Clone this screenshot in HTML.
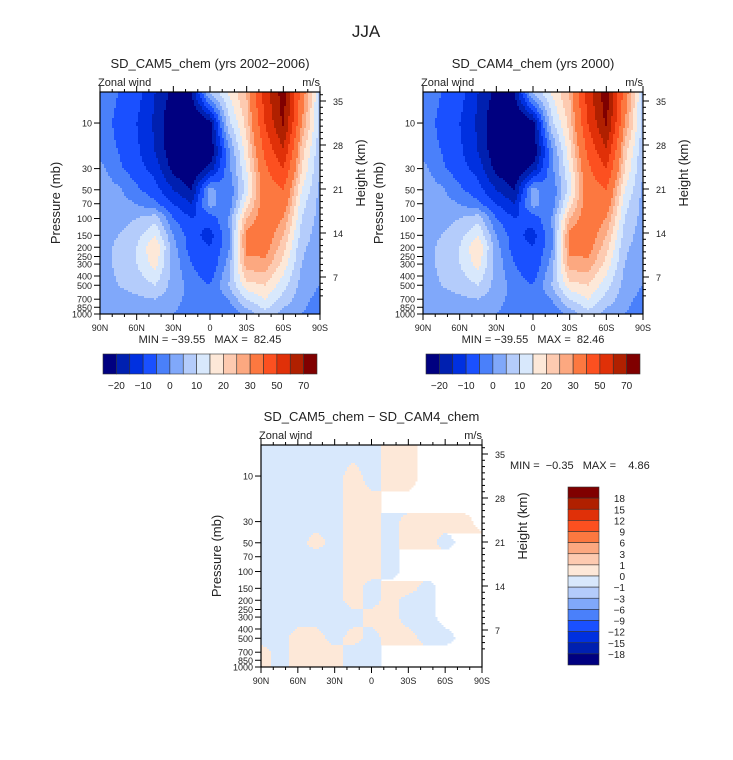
<!DOCTYPE html>
<html><head><meta charset="utf-8"><style>
body{margin:0;background:#fff;}
svg{display:block;font-family:"Liberation Sans",sans-serif;}
text{white-space:pre;}
</style></head><body>
<svg id="s" width="733" height="760" viewBox="0 0 733 760">
<rect width="733" height="760" fill="#fff"/>
<text x="366" y="37" font-size="17" text-anchor="middle" fill="#222">JJA</text>
</svg>
<script>
const lats = ["90N","75N","60N","45N","30N","15N","0","15S","30S","45S","60S","75S","90S"];
const pLevels = [5,10,20,30,50,70,100,150,200,300,500,700,1000];
const windCAM5 = [
[-3,-5,-8,-15,-22,-20,5,15,25,55,75,35,8],
[-3,-6,-10,-16,-25,-28,-22,8,22,50,72,30,8],
[-3,-5,-9,-15,-24,-28,-25,-2,18,42,58,22,6],
[2,-4,-8,-12,-22,-26,-18,-2,15,38,50,20,5],
[3,1,-4,-8,-15,-20,2,-5,12,35,40,15,4],
[3,2,0,-4,-10,-15,3,-5,18,35,35,12,3],
[3,3,5,8,-5,-10,-8,0,25,35,30,10,3],
[3,5,8,15,0,-8,-12,-2,32,35,25,8,2],
[3,6,10,20,2,-8,-10,-2,32,33,22,6,2],
[3,6,10,17,3,-5,-10,2,28,28,18,5,2],
[3,5,7,10,3,-2,-5,5,18,20,12,3,0],
[2,3,4,5,2,-2,-5,0,10,15,8,2,-2],
[0,0,2,3,0,-3,-5,-5,2,8,3,0,-3]];
const windCAM4 = [
[-3,-5,-8,-15,-22,-20,5,15,25,55,76,35,8],
[-3,-6,-10,-16,-25,-28,-22,8,22,50,72,30,8],
[-3,-5,-9,-15,-24,-28,-25,-2,18,42,58,22,6],
[2,-4,-8,-12,-22,-26,-18,-2,15,38,50,20,5],
[3,1,-4,-8,-15,-20,2,-5,12,35,40,15,4],
[3,2,0,-4,-10,-15,3,-5,18,35,35,12,3],
[3,3,5,8,-5,-10,-8,0,25,35,30,10,3],
[3,5,8,15,0,-8,-12,-2,32,35,25,8,2],
[3,6,10,20,2,-8,-10,-2,32,33,22,6,2],
[3,6,10,17,3,-5,-10,2,28,28,18,5,2],
[3,5,7,10,3,-2,-5,5,18,20,12,3,0],
[2,3,4,5,2,-2,-5,0,10,15,8,2,-2],
[0,0,2,3,0,-3,-5,-5,2,8,3,0,-3]];
const windDiff = [
[-.5,-.5,-.5,-.5,-.5,-.5,-.5,.5,.5,-.5,-.5,-.5,-.5],
[-.5,-.5,-.5,-.5,-.5,.5,-.5,.5,.5,-.5,-.5,-.5,-.5],
[-.5,-.5,-.5,-.5,-.5,.5,.5,-.5,-.5,-.5,-.5,-.5,-.5],
[-.5,-.5,-.5,-.5,-.5,.5,.5,-.5,.5,.5,.5,.5,-.5],
[-.5,-.5,-.5,.5,-.5,.5,.5,-.5,.5,.5,-.5,.5,.5],
[-.5,-.5,-.5,-.5,-.5,.5,.5,-.5,.5,.5,.5,.5,.5],
[-.5,-.5,-.5,-.5,-.5,.5,.5,-.5,.5,.5,.5,.5,.5],
[-.5,-.5,-.5,-.5,-.5,.5,-.5,.5,.5,-.5,.5,.5,.5],
[-.5,-.5,-.5,-.5,-.5,.5,-.5,.5,-.5,-.5,.5,.5,.5],
[-.5,-.5,-.5,-.5,-.5,-.5,.5,.5,-.5,-.5,.5,.5,.5],
[-.5,-.5,.5,.5,-.5,.5,-.5,.5,.5,-.5,-.5,.5,.5],
[.5,-.5,.5,.5,.5,-.5,-.5,.5,.5,.5,.5,.5,.5],
[.5,-.5,.5,.5,.5,-.5,-.5,.5,.5,.5,.5,.5,.5]];
const windLevels = [-20,-15,-10,-5,0,5,10,15,20,25,30,40,50,60,70];
const windLabels = ["-20","-10","0","10","20","30","50","70"];
const diffLevels = [-18,-15,-12,-9,-6,-3,-1,0,1,3,6,9,12,15,18];
const colors = ["#000080","#0020b0","#0030e0","#1a50ff","#4a80fa","#80a8fa","#b4ccfb","#d8e8fc","#fde8d8","#fdcab0","#fca880","#fc7840","#fc5020","#e03008","#b02000","#800000"];
const pTicks = [10,30,50,70,100,150,200,250,300,400,500,700,850,1000];
const hTicks = [7,14,21,28,35];
const latTicks = ["90N","60N","30N","0","30S","60S","90S"];

const NS="http://www.w3.org/2000/svg";
const svg=document.getElementById('s');
function el(t,a,p){const e=document.createElementNS(NS,t);for(const k in a)e.setAttribute(k,a[k]);(p||svg).appendChild(e);return e;}
function txt(x,y,s,sz,anch,p){const e=el('text',{x:x,y:y,'font-size':sz,'text-anchor':anch||'middle',fill:'#222'},p);e.textContent=s;return e;}
function colorFor(v,lv){let i=0;while(i<lv.length&&v>=lv[i])i++;return colors[i];}
const logTop=0.675;
function yOfP(p,y0,h){return y0+(Math.log10(p)-logTop)/(3-logTop)*h;}
function sample(grid,u,lp){
  const lg=pLevels.map(Math.log10);
  let k=0; if(lp<=lg[0]){k=0;lp=lg[0];} else {while(k<lg.length-2&&lp>lg[k+1])k++;}
  let t=(lp-lg[k])/(lg[k+1]-lg[k]);t=Math.max(0,Math.min(1,t));
  let j=Math.min(11,Math.floor(u));let s=u-j;
  const a=grid[k][j]*(1-s)+grid[k][j+1]*s, b=grid[k+1][j]*(1-s)+grid[k+1][j+1]*s;
  return a*(1-t)+b*t;
}
function panel(name,grid,lv,x0,y0,w,h,title,minmax,mmx,mmy,mmAnchor){
  const g=el('g',{});
  
  
  const cs=2;
  for(let y=0;y<h;y+=cs){
    const lp=logTop+(y+cs/2)/h*(3-logTop);
    let runStart=0,runCol=null;
    for(let x=0;x<=w;x+=cs){
      let c=null;
      if(x<w){c=colorFor(sample(grid,(x+cs/2)/w*12,lp),lv);}
      if(c!==runCol){
        if(runCol!==null){const r=el('rect',{x:x0+runStart,y:y0+y,width:x-runStart+0.5,height:cs+0.5,fill:runCol},g);
          
          }
        runStart=x;runCol=c;
      }
    }
  }
  el('rect',{x:x0,y:y0,width:w,height:h,fill:'none',stroke:'#000','stroke-width':1.2},g);
  txt(x0+w/2,y0-24,title,13,'middle',g);
  txt(x0-2,y0-6,'Zonal wind',11,'start',g);
  txt(x0+w,y0-6,'m/s',11,'end',g);
  for(let d=0;d<=18;d++){
    const x=x0+d/18*w, maj=d%3==0;
    el('line',{x1:x,y1:y0+h,x2:x,y2:y0+h+(maj?6:3),stroke:'#000'},g);
    el('line',{x1:x,y1:y0,x2:x,y2:y0-(maj?6:3),stroke:'#000'},g);
    if(maj) txt(x,y0+h+17,latTicks[d/3],9,'middle',g);
  }
  pTicks.forEach(p=>{const y=yOfP(p,y0,h);
    el('line',{x1:x0-6,y1:y,x2:x0,y2:y,stroke:'#000'},g);
    txt(x0-8,y+3.5,String(p),9,'end',g);});
  hTicks.forEach(k=>{const y=y0+h-37-(k-7)/7*44;
    el('line',{x1:x0+w,y1:y,x2:x0+w+6,y2:y,stroke:'#000'},g);
    txt(x0+w+13,y+4,String(k),9,'start',g);});
  for(let k=4;k<=36;k++){const y=y0+h-37-(k-7)/7*44; if(y>y0&&y<y0+h) el('line',{x1:x0+w,y1:y,x2:x0+w+3,y2:y,stroke:'#000'},g);}
  const pt=txt(0,0,'Pressure (mb)',13,'middle',g);pt.setAttribute('transform',`translate(${x0-40},${y0+h/2}) rotate(-90)`);
  
  const ht=txt(0,0,'Height (km)',13,'middle',g);ht.setAttribute('transform',`translate(${x0+w+45},${y0+h/2-30}) rotate(-90)`);
  txt(mmx,mmy,minmax,11,mmAnchor,g);
}
function hbar(name,x0,y0,w,h){
  const g=el('g',{});
  
  
  const bw=w/16;
  colors.forEach((c,i)=>{el('rect',{x:x0+i*bw,y:y0,width:bw,height:h,fill:c,stroke:'#333','stroke-width':0.6},g);});
  windLabels.forEach((l,i)=>{const b=i*2; txt(x0+(b+1)*bw,y0+h+15,l.replace('-','−'),10,'middle',g);});
}
function vbar(name,x0,y0,w,h){
  const g=el('g',{});
  
  
  const bh=h/16;
  colors.slice().reverse().forEach((c,i)=>{el('rect',{x:x0,y:y0+i*bh,width:w,height:bh,fill:c,stroke:'#333','stroke-width':0.6},g);});
  diffLevels.slice().reverse().forEach((l,i)=>{txt(x0+w+26,y0+(i+1)*bh+4,String(l).replace('-','−'),10,'end',g);});
}
panel('panel-cam5',windCAM5,windLevels,100,92,220,222,'SD_CAM5_chem (yrs 2002−2006)','MIN = −39.55   MAX =  82.45',210,343,'middle');
panel('panel-cam4',windCAM4,windLevels,423,92,220,222,'SD_CAM4_chem (yrs 2000)','MIN = −39.55   MAX =  82.46',533,343,'middle');
panel('panel-diff',windDiff,diffLevels,261,445,221,222,'SD_CAM5_chem − SD_CAM4_chem','MIN =  −0.35   MAX =    4.86',510,469,'start');
hbar('colorbar-cam5',103,354,214,20);
hbar('colorbar-cam4',426,354,214,20);
vbar('colorbar-diff',568,487,31,178);
</script>
</body></html>
